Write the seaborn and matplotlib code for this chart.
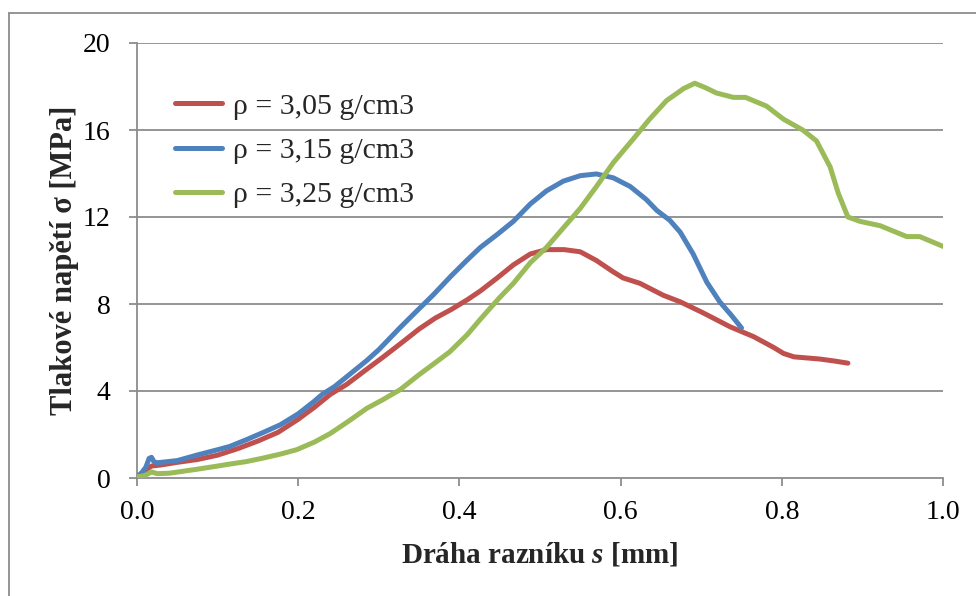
import matplotlib
matplotlib.use("Agg")
import matplotlib.pyplot as plt
from matplotlib.lines import Line2D
import numpy as np
import pandas as pd
import seaborn as sns

# Punch travel s [mm] and compressive stress sigma [MPa] for three densities
labels = ["ρ = 3,05 g/cm3", "ρ = 3,15 g/cm3", "ρ = 3,25 g/cm3"]
colors = ["#C0504D", "#4F81BD", "#9BBB59"]

s_305 = [0.000, 0.006, 0.012, 0.018, 0.030, 0.050, 0.075, 0.100, 0.125, 0.150,
         0.175, 0.200, 0.220, 0.240, 0.260, 0.285, 0.305, 0.326, 0.350, 0.370,
         0.390, 0.410, 0.426, 0.447, 0.467, 0.488, 0.508, 0.530, 0.550, 0.570,
         0.590, 0.603, 0.624, 0.653, 0.674, 0.702, 0.736, 0.765, 0.790, 0.802,
         0.815, 0.847, 0.865, 0.882]
sig_305 = [0.00, 0.20, 0.40, 0.55, 0.60, 0.72, 0.85, 1.05, 1.35, 1.70,
           2.10, 2.70, 3.25, 3.85, 4.30, 5.00, 5.55, 6.15, 6.85, 7.35,
           7.75, 8.20, 8.60, 9.20, 9.80, 10.30, 10.50, 10.50, 10.40, 10.00,
           9.50, 9.20, 8.95, 8.40, 8.10, 7.60, 6.95, 6.50, 6.00, 5.73,
           5.57, 5.47, 5.38, 5.28]

s_315 = [0.000, 0.006, 0.011, 0.015, 0.018, 0.021, 0.025, 0.050, 0.074, 0.100,
         0.115, 0.135, 0.157, 0.178, 0.200, 0.219, 0.230, 0.245, 0.265, 0.285,
         0.300, 0.326, 0.345, 0.367, 0.390, 0.409, 0.426, 0.447, 0.467, 0.488,
         0.508, 0.529, 0.550, 0.570, 0.591, 0.612, 0.632, 0.645, 0.661, 0.674,
         0.690, 0.707, 0.723, 0.737, 0.750]
sig_315 = [0.05, 0.25, 0.50, 0.90, 0.95, 0.75, 0.70, 0.80, 1.05, 1.30,
           1.45, 1.75, 2.10, 2.45, 2.95, 3.50, 3.85, 4.20, 4.80, 5.40,
           5.90, 6.90, 7.60, 8.40, 9.30, 10.00, 10.60, 11.20, 11.80, 12.60,
           13.20, 13.65, 13.90, 13.98, 13.80, 13.40, 12.80, 12.30, 11.85, 11.30,
           10.30, 9.00, 8.10, 7.50, 6.90]

s_325 = [0.000, 0.010, 0.018, 0.025, 0.040, 0.074, 0.100, 0.115, 0.135, 0.157,
         0.178, 0.198, 0.220, 0.240, 0.264, 0.285, 0.305, 0.326, 0.350, 0.370,
         0.388, 0.410, 0.426, 0.450, 0.467, 0.488, 0.508, 0.529, 0.550, 0.570,
         0.591, 0.616, 0.636, 0.657, 0.678, 0.692, 0.705, 0.719, 0.740, 0.755,
         0.781, 0.802, 0.826, 0.843, 0.860, 0.870, 0.882, 0.897, 0.922, 0.955,
         0.971, 0.984, 1.000]
sig_325 = [0.05, 0.12, 0.28, 0.20, 0.22, 0.40, 0.55, 0.64, 0.75, 0.92,
           1.10, 1.30, 1.65, 2.05, 2.65, 3.20, 3.60, 4.05, 4.75, 5.30,
           5.80, 6.60, 7.30, 8.30, 8.95, 9.90, 10.60, 11.50, 12.40, 13.40,
           14.50, 15.60, 16.50, 17.35, 17.90, 18.15, 17.95, 17.70, 17.50, 17.50,
           17.10, 16.50, 16.00, 15.50, 14.30, 13.10, 12.00, 11.80, 11.60, 11.10,
           11.10, 10.90, 10.65]

x_ticks = [0.0, 0.2, 0.4, 0.6, 0.8, 1.0]
y_ticks = [0, 4, 8, 12, 16, 20]

df = pd.concat([
    pd.DataFrame({"s": s_305, "sigma": sig_305, "rho": labels[0]}),
    pd.DataFrame({"s": s_315, "sigma": sig_315, "rho": labels[1]}),
    pd.DataFrame({"s": s_325, "sigma": sig_325, "rho": labels[2]}),
], ignore_index=True)

sns.set_theme(style="white")
plt.rcParams["font.family"] = ["Liberation Serif", "DejaVu Serif"]
plt.rcParams["mathtext.fontset"] = "custom"
plt.rcParams["mathtext.rm"] = "Liberation Serif:bold"
plt.rcParams["mathtext.it"] = "Liberation Serif:italic:bold"
plt.rcParams["mathtext.bf"] = "Liberation Serif:bold"

fig = plt.figure(figsize=(9.76, 5.96), dpi=100)
ax = fig.add_axes([137 / 976, 1 - 478 / 596, 806 / 976, 435 / 596])

grid_c = "#8C8C8C"
for yv in y_ticks[1:]:
    ax.axhline(yv, color=grid_c, lw=1.3, zorder=0)

sns.lineplot(data=df, x="s", y="sigma", hue="rho", hue_order=labels,
             palette=dict(zip(labels, colors)), sort=False, estimator=None,
             linewidth=3.6, ax=ax, zorder=3)
for ln in ax.get_lines():
    ln.set_solid_capstyle("round")
    ln.set_solid_joinstyle("round")

ax.set_xlim(0, 1.0)
ax.set_ylim(0, 20)
ax.set_xticks(x_ticks)
ax.set_xticklabels([f"{v:.1f}" for v in x_ticks])
ax.set_yticks(y_ticks)
ax.set_yticklabels([str(v) for v in y_ticks])
ax.tick_params(axis="both", which="major", direction="out", length=6,
               width=1.3, color=grid_c, labelsize=20, labelcolor="black",
               left=True, bottom=True)
ax.tick_params(axis="y", pad=13)
ax.tick_params(axis="x", pad=10)

for side in ["top", "right"]:
    ax.spines[side].set_visible(False)
for side in ["left", "bottom"]:
    ax.spines[side].set_color(grid_c)
    ax.spines[side].set_linewidth(1.3)

ax.set_xlabel(r"Dráha razníku $\mathit{s}$ [mm]", fontsize=21,
              fontweight="bold", labelpad=11)
ax.set_ylabel("Tlakové napětí σ [MPa]", fontsize=22, fontweight="bold",
              labelpad=3)

leg = ax.legend(loc="upper left", bbox_to_anchor=(0.047, 0.885), frameon=False,
                fontsize=21.5, handlelength=1.57, handletextpad=0.37,
                labelspacing=0.58, borderpad=0, borderaxespad=0)
for h in leg.get_lines():
    h.set_linewidth(3.6)
    h.set_solid_capstyle("round")

# thin frame around the chart area
fig.add_artist(Line2D([8.5 / 976, 8.5 / 976], [0, 1 - 13 / 596],
                      color="#8C8C8C", lw=1.3, transform=fig.transFigure))
fig.add_artist(Line2D([8.5 / 976, 1], [1 - 13 / 596, 1 - 13 / 596],
                      color="#8C8C8C", lw=1.3, transform=fig.transFigure))

fig.savefig("out.png", dpi=100, facecolor="white")
